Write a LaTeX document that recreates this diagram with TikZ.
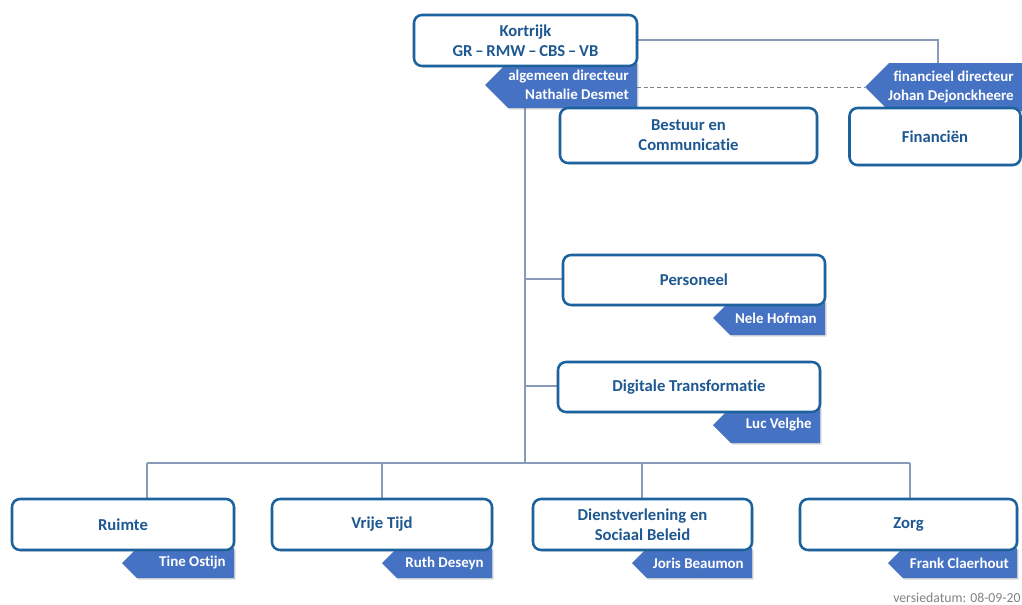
\documentclass[tikz,border=0pt]{standalone}
\usepackage{fontspec}
\setmainfont{Carlito}[Ligatures={NoCommon}]
\usetikzlibrary{shadows}
\definecolor{boxblue}{RGB}{28,98,158}
\definecolor{txtblue}{RGB}{30,88,145}
\definecolor{tagblue}{RGB}{70,114,196}
\definecolor{linegray}{RGB}{135,155,185}
\definecolor{vergray}{RGB}{130,130,130}
\tikzset{
  orgbox/.style={draw=boxblue, line width=1.9pt, rounded corners=6pt, fill=white,
    align=center, text=txtblue, font=\fontsize{12.5}{15}\selectfont\bfseries,
    inner sep=0pt, drop shadow={opacity=0.25, shadow xshift=1.2pt, shadow yshift=-1.2pt}},
  tagfill/.style={fill=tagblue, drop shadow={opacity=0.3, shadow xshift=1.2pt, shadow yshift=-1.2pt}},
  tagtext/.style={text=white, align=right, anchor=east, inner sep=0pt,
    font=\fontsize{11.2}{14}\selectfont\bfseries},
  conn/.style={draw=linegray, line width=0.8pt},
  dashconn/.style={draw=gray, line width=0.6pt, dashed, dash pattern=on 3pt off 2pt}
}
% \orgtag{name}{right}{top}{bottom}{point x}{text}
\newcommand\orgtag[6]{%
  \pgfmathsetmacro\tgd{(#4-#3)/2}%
  \pgfmathsetmacro\tgm{(#4+#3)/2}%
  \fill[tagfill] (#2,#3) -- (#2,#4) -- (#5+\tgd,#4) -- (#5,\tgm) -- (#5+\tgd,#3) -- cycle;
  \node[tagtext] (#1) at (#2-8,\tgm) {#6};
}
\begin{document}
\begin{tikzpicture}[x=0.75pt,y=-0.75pt]
\clip (0,0) rectangle (1022,604);
\fill[white] (0,0) rectangle (1022,604);

% connector coordinates
\coordinate (busL) at (147,463);
\coordinate (busR) at (910,463);
\coordinate (spineTop) at (525,108);
\coordinate (spineBot) at (525,463);
\coordinate (agP) at (637,87);
\coordinate (finP) at (865,87);
\coordinate (finTop) at (938,63);
\coordinate (kRight) at (637,40);
\coordinate (pBr) at (525,279);
\coordinate (dBr) at (525,386);

% connectors
\draw[conn] (kRight) -| (finTop);
\draw[dashconn] (agP) -- (finP);
\draw[conn] (spineTop) -- (spineBot);
\draw[conn] (busL) -- (busR);
\draw[conn] (pBr) -- (563,279);
\draw[conn] (dBr) -- (558,386);
\draw[conn] (busL) -- (147,499);
\draw[conn] (382,463) -- (382,499);
\draw[conn] (642,463) -- (642,499);
\draw[conn] (busR) -- (910,499);

% tags
\orgtag{tagAD}{637}{62}{108}{485}{algemeen directeur\\Nathalie Desmet}
\orgtag{tagFD}{1022}{63}{111}{865}{financieel directeur\\Johan Dejonckheere}
\orgtag{tagNH}{825}{301}{335}{713}{Nele Hofman}
\orgtag{tagLV}{820}{407}{443}{713}{Luc Velghe}
\orgtag{tagTO}{234}{548}{578}{122}{Tine Ostijn}
\orgtag{tagRD}{492}{548}{578}{382}{Ruth Deseyn}
\orgtag{tagJB}{752}{548}{578}{632}{Joris Beaumon}
\orgtag{tagFC}{1017}{548}{578}{888}{Frank Claerhout}

% boxes
\node[orgbox, minimum width=223*0.75pt, minimum height=51*0.75pt] (kort) at (525.5,40.5) {Kortrijk\\GR\,–\,RMW\,–\,CBS\,–\,VB};
\node[orgbox, minimum width=257*0.75pt, minimum height=55*0.75pt] (best) at (688.5,135.5) {Bestuur en\\Communicatie};
\node[orgbox, minimum width=171*0.75pt, minimum height=57*0.75pt] (fin) at (935,136.5) {Financiën};
\node[orgbox, minimum width=262*0.75pt, minimum height=50*0.75pt] (pers) at (694,280) {Personeel};
\node[orgbox, minimum width=262*0.75pt, minimum height=50*0.75pt] (digi) at (689,387) {Digitale Transformatie};
\node[orgbox, minimum width=222*0.75pt, minimum height=51*0.75pt] (ruim) at (123,524.5) {Ruimte};
\node[orgbox, minimum width=220*0.75pt, minimum height=51*0.75pt] (vrij) at (382,524.5) {Vrije Tijd};
\node[orgbox, minimum width=219*0.75pt, minimum height=51*0.75pt] (dien) at (642.5,524.5) {Dienstverlening en\\Sociaal Beleid};
\node[orgbox, minimum width=217*0.75pt, minimum height=51*0.75pt] (zorg) at (908.5,524.5) {Zorg};

\node[anchor=base west, inner sep=0pt, text=vergray, font=\fontsize{10.3}{12}\selectfont] (versie) at (893,602) {versiedatum: 08-09-20};
\end{tikzpicture}
\end{document}
